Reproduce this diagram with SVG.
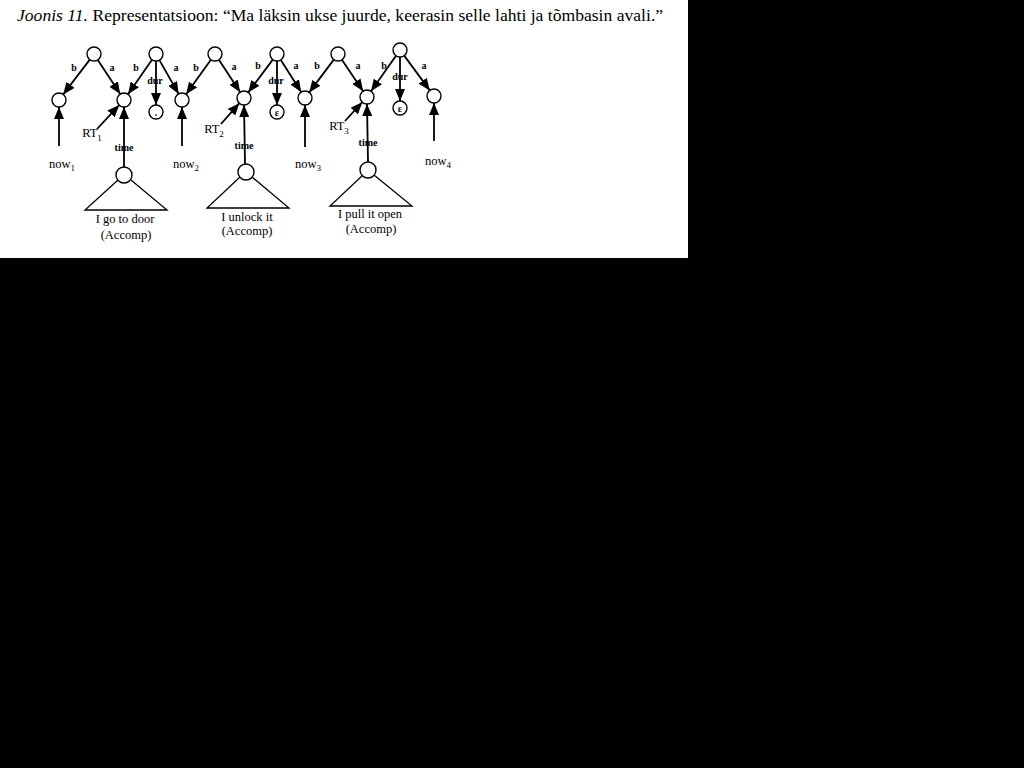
<svg xmlns="http://www.w3.org/2000/svg" width="1024" height="768" viewBox="0 0 1024 768">
<style>
.n{fill:#fff;stroke:#000;stroke-width:1.4}
.e{stroke:#000;stroke-width:1.8;fill:none;marker-end:url(#ah)}
.t{stroke:#000;stroke-width:1.3;fill:none}
.lb{font-family:"Liberation Serif",serif;font-weight:bold;font-size:10px;fill:#000;text-anchor:middle}
.lt{font-family:"Liberation Serif",serif;font-size:12.5px;fill:#000;text-anchor:middle}
.cap{font-family:"Liberation Serif",serif;font-size:17.6px;fill:#000}
</style>
<defs>
<marker id="ah" viewBox="0 0 12 10" refX="12" refY="5" markerWidth="12" markerHeight="10" orient="auto" markerUnits="userSpaceOnUse">
<path d="M0,0 L12,5 L0,10 z" fill="#000"/>
</marker>
</defs>
<rect x="0" y="0" width="1024" height="768" fill="#000"/>
<rect x="0" y="0" width="688" height="258" fill="#fff"/>
<text class="cap" x="17" y="21"><tspan font-style="italic">Joonis 11.</tspan> Representatsioon: “Ma läksin ukse juurde, keerasin selle lahti ja tõmbasin avali.”</text>
<g id="connectors">
<line class="e" x1="89.8" y1="59.6" x2="63.2" y2="94.4"/>
<line class="e" x1="97.8" y1="59.9" x2="120.2" y2="94.1"/>
<line class="e" x1="152" y1="59.7" x2="128" y2="94.3"/>
<line class="e" x1="156" y1="61" x2="156" y2="105"/>
<line class="e" x1="159.4" y1="60.1" x2="178.6" y2="93.9"/>
<line class="e" x1="210.9" y1="59.7" x2="186.1" y2="94.3"/>
<line class="e" x1="218.9" y1="59.8" x2="240.2" y2="92.2"/>
<line class="e" x1="272.8" y1="59.6" x2="248.2" y2="92.4"/>
<line class="e" x1="277" y1="61" x2="277" y2="105"/>
<line class="e" x1="280.8" y1="59.9" x2="301.2" y2="92.1"/>
<line class="e" x1="333.8" y1="59.6" x2="309.2" y2="92.4"/>
<line class="e" x1="341.9" y1="59.8" x2="363.1" y2="91.2"/>
<line class="e" x1="396" y1="55.7" x2="371" y2="91.3"/>
<line class="e" x1="400" y1="57" x2="400" y2="101"/>
<line class="e" x1="404.2" y1="55.6" x2="429.8" y2="90.4"/>
<line class="e" x1="59" y1="146" x2="59" y2="107"/>
<line class="e" x1="97" y1="129" x2="119.2" y2="105.1"/>
<line class="e" x1="124" y1="167" x2="124" y2="107"/>
<line class="e" x1="182" y1="146" x2="182" y2="107"/>
<line class="e" x1="221" y1="124" x2="239.4" y2="103.2"/>
<line class="e" x1="245" y1="164" x2="244" y2="105"/>
<line class="e" x1="305" y1="147" x2="305" y2="105"/>
<line class="e" x1="345" y1="121" x2="362.3" y2="102.2"/>
<line class="e" x1="368" y1="162" x2="367" y2="104"/>
<line class="e" x1="434" y1="141" x2="434" y2="103"/>
</g>
<g id="edge-labels">
<text class="lb" x="74" y="71">b</text>
<text class="lb" x="112" y="71">a</text>
<text class="lb" x="136" y="71">b</text>
<text class="lb" x="155" y="84">dur</text>
<text class="lb" x="176" y="71">a</text>
<text class="lb" x="196" y="71">b</text>
<text class="lb" x="234" y="70">a</text>
<text class="lb" x="258" y="69">b</text>
<text class="lb" x="276" y="84">dur</text>
<text class="lb" x="296" y="69">a</text>
<text class="lb" x="317" y="69">b</text>
<text class="lb" x="358" y="69">a</text>
<text class="lb" x="384" y="69">b</text>
<text class="lb" x="400" y="80">dur</text>
<text class="lb" x="424" y="69">a</text>
<text class="lb" x="124" y="151">time</text>
<text class="lb" x="244" y="149">time</text>
<text class="lb" x="368" y="146">time</text>
</g>
<g id="T1"><circle class="n" cx="94" cy="54" r="7"/></g>
<g id="T2"><circle class="n" cx="156" cy="54" r="7"/></g>
<g id="T3"><circle class="n" cx="215" cy="54" r="7"/></g>
<g id="T4"><circle class="n" cx="277" cy="54" r="7"/></g>
<g id="T5"><circle class="n" cx="338" cy="54" r="7"/></g>
<g id="T6"><circle class="n" cx="400" cy="50" r="7"/></g>
<g id="N1"><circle class="n" cx="59" cy="100" r="7"/></g>
<g id="N2"><circle class="n" cx="124" cy="100" r="7"/></g>
<g id="D1"><circle class="n" cx="156" cy="112" r="7"/><text class="lb" x="156" y="116">.</text></g>
<g id="N3"><circle class="n" cx="182" cy="100" r="7"/></g>
<g id="N4"><circle class="n" cx="244" cy="98" r="7"/></g>
<g id="E1"><circle class="n" cx="277" cy="112" r="7"/><text class="lb" x="277" y="115.5">ε</text></g>
<g id="N5"><circle class="n" cx="305" cy="98" r="7"/></g>
<g id="N6"><circle class="n" cx="367" cy="97" r="7"/></g>
<g id="E2"><circle class="n" cx="400" cy="108" r="7"/><text class="lb" x="400" y="111.5">ε</text></g>
<g id="N7"><circle class="n" cx="434" cy="96" r="7"/></g>
<g id="now1"><text class="lt" x="62" y="168" font-size="11.5">now<tspan font-size="9" dy="3">1</tspan></text></g>
<g id="RT1"><text class="lt" x="92" y="137" font-size="11.5">RT<tspan font-size="9" dy="4">1</tspan></text></g>
<g id="now2"><text class="lt" x="186" y="168" font-size="11.5">now<tspan font-size="9" dy="3">2</tspan></text></g>
<g id="RT2"><text class="lt" x="214" y="133" font-size="11.5">RT<tspan font-size="9" dy="4">2</tspan></text></g>
<g id="now3"><text class="lt" x="308" y="168" font-size="11.5">now<tspan font-size="9" dy="3">3</tspan></text></g>
<g id="RT3"><text class="lt" x="339" y="130" font-size="11.5">RT<tspan font-size="9" dy="4">3</tspan></text></g>
<g id="now4"><text class="lt" x="438" y="165" font-size="11.5">now<tspan font-size="9" dy="3">4</tspan></text></g>
<g id="A1">
<polyline class="t" points="118,180 85,210 167,210 131,180"/>
<circle class="n" cx="124" cy="175" r="8"/>
<text class="lt" x="125" y="223">I go to door</text>
<text class="lt" x="126" y="239">(Accomp)</text>
</g>
<g id="A2">
<polyline class="t" points="240,177 207,208 289,208 252,177"/>
<circle class="n" cx="246" cy="172" r="8"/>
<text class="lt" x="247" y="221">I unlock it</text>
<text class="lt" x="247" y="235">(Accomp)</text>
</g>
<g id="A3">
<polyline class="t" points="363,175 330,206 412,206 374,175"/>
<circle class="n" cx="368" cy="170" r="8"/>
<text class="lt" x="370" y="218">I pull it open</text>
<text class="lt" x="371" y="233">(Accomp)</text>
</g>
</svg>
